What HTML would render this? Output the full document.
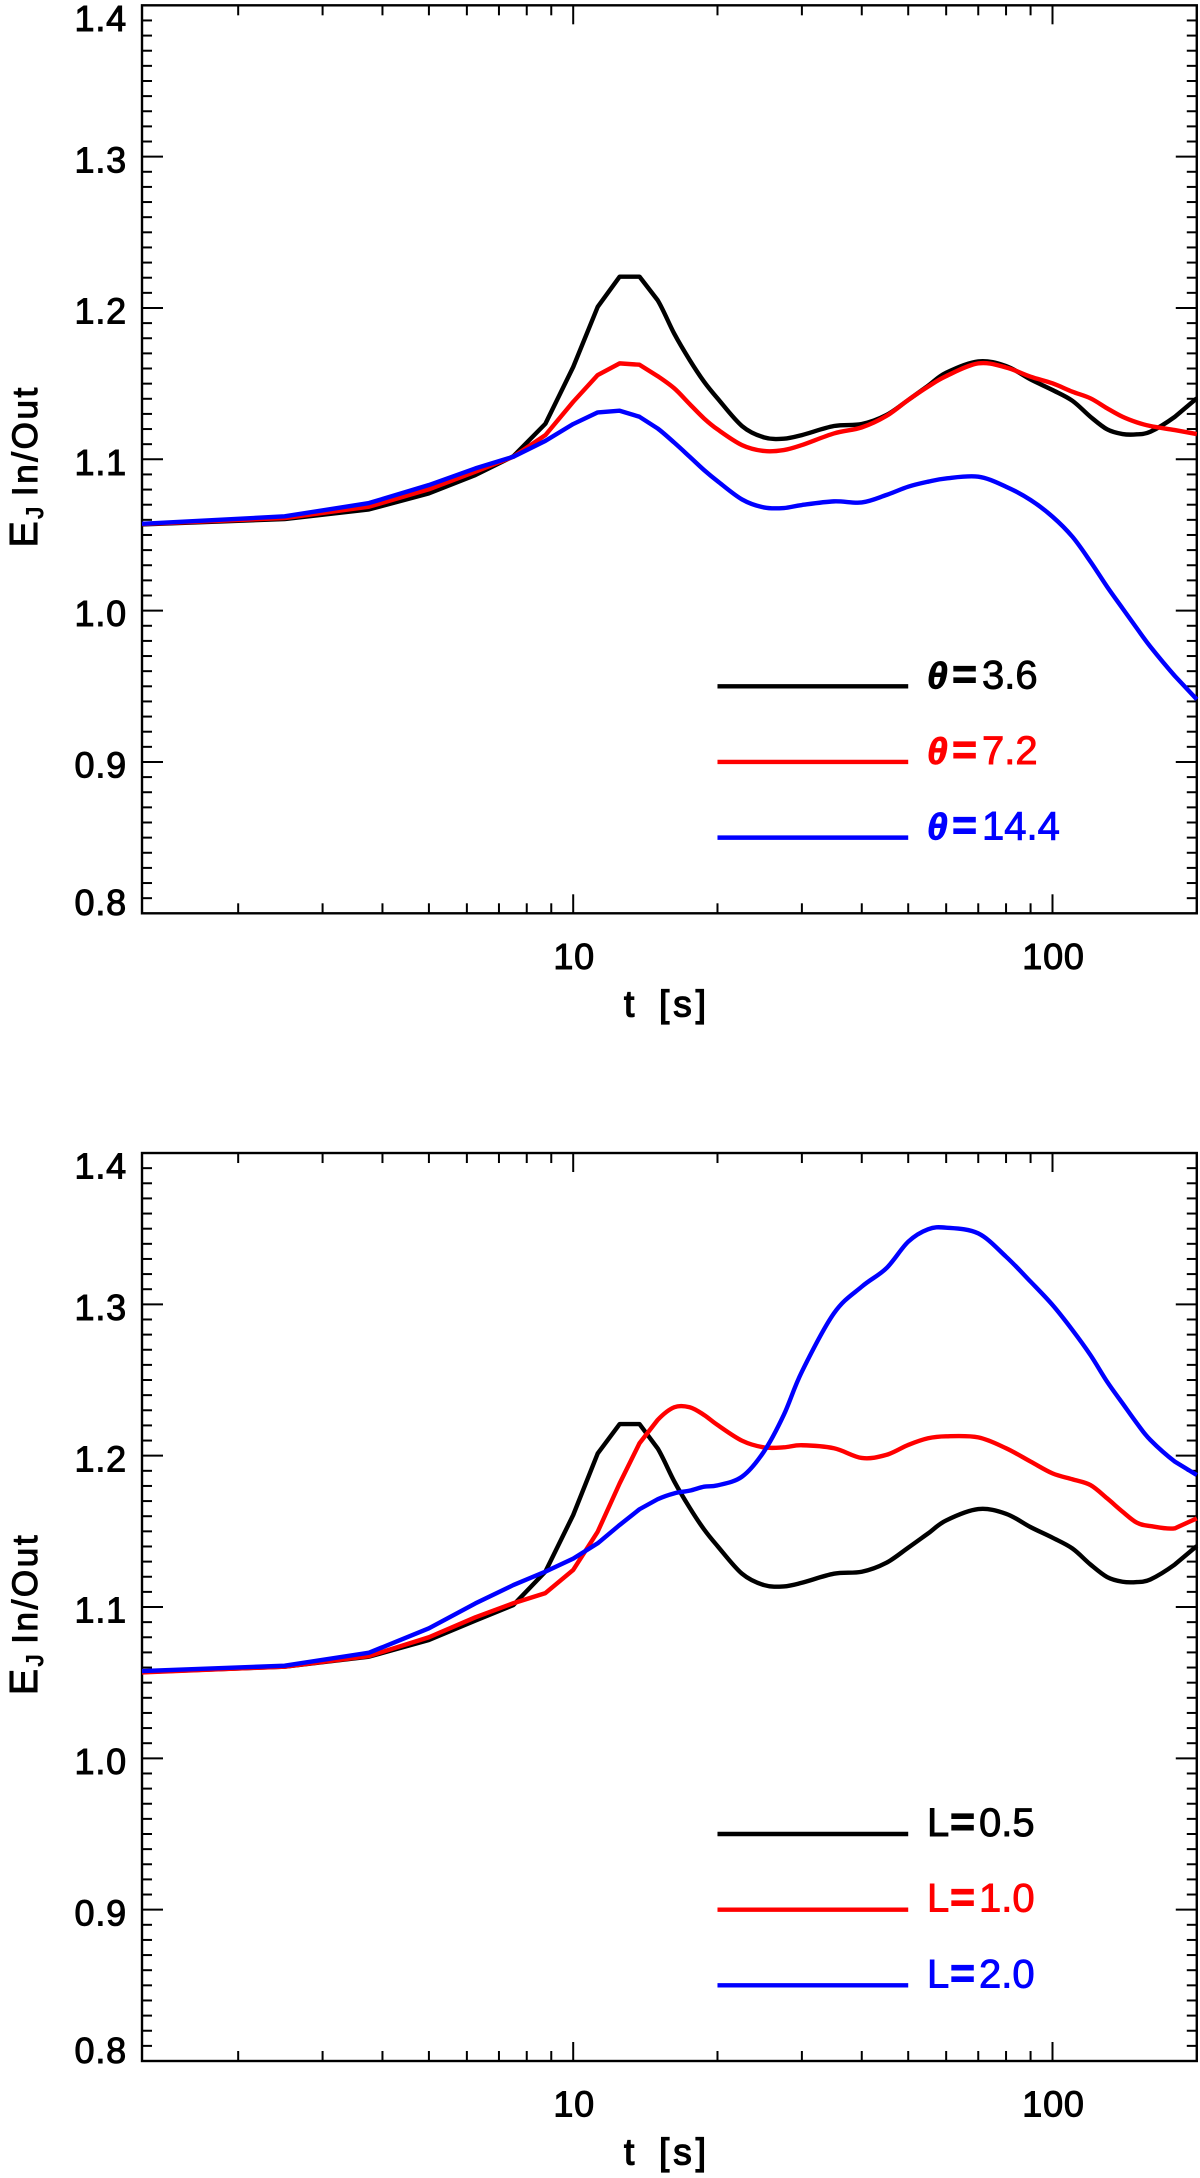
<!DOCTYPE html>
<html>
<head>
<meta charset="utf-8">
<title>EJ In/Out versus time</title>
<style>
html,body{margin:0;padding:0;background:#fff;width:1200px;height:2178px;overflow:hidden}
svg{display:block}
text{font-family:"Liberation Sans",sans-serif}
.tick-label{font-size:36px;stroke-width:1px;letter-spacing:.8px}
</style>
</head>
<body>
<svg id="chart" xmlns="http://www.w3.org/2000/svg" width="1200" height="2178" viewBox="0 0 1200 2178"></svg>
<script>
const times = [1.26,2.5,3.75,5,6.25,7.5,8.75,10,11.25,12.5,13.75,15,16.25,17.5,18.75,20,22.5,25,27.5,30,35,40,45,50,55,60,70,80,90,100,110,120,130,140,150,160,180,200];
const thetaBlack = [1.0570,1.0605,1.0669,1.0775,1.0896,1.1020,1.1235,1.1610,1.2008,1.2207,1.2207,1.2052,1.1830,1.1656,1.1513,1.1403,1.1220,1.1145,1.1136,1.1160,1.1220,1.1233,1.1292,1.1392,1.1486,1.1572,1.1647,1.1616,1.1528,1.1458,1.1387,1.1281,1.1198,1.1167,1.1165,1.1182,1.1281,1.1403];
const thetaRed = [1.0572,1.0612,1.0687,1.0802,1.0918,1.1017,1.1160,1.1380,1.1557,1.1634,1.1625,1.1550,1.1469,1.1365,1.1270,1.1198,1.1094,1.1055,1.1061,1.1094,1.1171,1.1211,1.1286,1.1392,1.1480,1.1550,1.1634,1.1607,1.1546,1.1502,1.1447,1.1403,1.1337,1.1281,1.1244,1.1220,1.1193,1.1167];
const thetaBlue = [1.0574,1.0623,1.0711,1.0830,1.0940,1.1017,1.1122,1.1233,1.1310,1.1321,1.1281,1.1204,1.1110,1.1017,1.0929,1.0856,1.0735,1.0682,1.0678,1.0698,1.0722,1.0715,1.0764,1.0819,1.0852,1.0874,1.0885,1.0819,1.0731,1.0621,1.0489,1.0324,1.0158,1.0015,0.9883,0.9762,0.9568,0.9414];
const lengthBlack = [1.0570,1.0606,1.0672,1.0782,1.0910,1.1013,1.1234,1.1608,1.2015,1.2209,1.2209,1.2049,1.1830,1.1656,1.1513,1.1403,1.1220,1.1145,1.1136,1.1160,1.1220,1.1233,1.1292,1.1392,1.1486,1.1572,1.1647,1.1616,1.1528,1.1458,1.1387,1.1281,1.1198,1.1167,1.1165,1.1182,1.1281,1.1403];
const lengthRed = [1.0568,1.0606,1.0676,1.0800,1.0932,1.1025,1.1092,1.1245,1.1498,1.1817,1.2082,1.2236,1.2320,1.2320,1.2269,1.2203,1.2099,1.2055,1.2055,1.2069,1.2049,1.1985,1.2005,1.2071,1.2115,1.2128,1.2121,1.2049,1.1961,1.1883,1.1844,1.1806,1.1718,1.1630,1.1557,1.1535,1.1520,1.1586];
const lengthBlue = [1.0577,1.0612,1.0698,1.0859,1.1024,1.1145,1.1234,1.1320,1.1421,1.1542,1.1646,1.1712,1.1751,1.1769,1.1795,1.1804,1.1861,1.2027,1.2269,1.2555,1.2941,1.3117,1.3238,1.3414,1.3496,1.3507,1.3469,1.3315,1.3150,1.2996,1.2831,1.2665,1.2489,1.2346,1.2214,1.2104,1.1961,1.1872];
const yTickLabels = ["0.8","0.9","1.0","1.1","1.2","1.3","1.4"];
const xMajorTicks = [10,100];
const xMinorTicks = [2,3,4,5,6,7,8,9,20,30,40,50,60,70,80,90];
const thetaLegendLabels = ["3.6","7.2","14.4"];
const lengthLegendLabels = ["0.5","1.0","2.0"];
const legendValues = [0.95,0.90,0.85];
const legendStart = 20;
const legendEnd = 50;
const yMin = 0.8;
const yMax = 1.4;
const xMin = 1.26;
const xMax = 200;

const NS = "http://www.w3.org/2000/svg";
const svg = document.getElementById("chart");
const COLORS = ["#000000","#ff0000","#0000ff"];
const COLOR_NAMES = ["black","red","blue"];
const INK = "#000000";

function xScale(t){ return 573.2 + 479.3 * (Math.log10(t) - 1); }
function makeYScale(bottom){ return function(v){ return bottom - (v - yMin) * 1513.3; }; }
function el(parent, tag, attrs){
  const e = document.createElementNS(NS, tag);
  for (const k in attrs) e.setAttribute(k, attrs[k]);
  parent.appendChild(e);
  return e;
}
function curvePath(xs, ys){
  let d = "M" + xs[0].toFixed(2) + " " + ys[0].toFixed(2);
  for (let i = 1; i < xs.length; i++){
    if (times[i] <= 15 || i >= xs.length - 1){
      d += "L" + xs[i].toFixed(2) + " " + ys[i].toFixed(2);
    } else {
      const c1x = xs[i-1] + (xs[i] - xs[i-2]) / 6, c1y = ys[i-1] + (ys[i] - ys[i-2]) / 6;
      const c2x = xs[i] - (xs[i+1] - xs[i-1]) / 6, c2y = ys[i] - (ys[i+1] - ys[i-1]) / 6;
      d += "C" + [c1x,c1y,c2x,c2y,xs[i],ys[i]].map(function(n){return n.toFixed(2);}).join(" ");
    }
  }
  return d;
}

function drawPanel(name, bottom, seriesList, seriesNames, legendLabels, legendKind){
  const y = makeYScale(bottom);
  const top = y(yMax), left = xScale(xMin), right = xScale(xMax);
  const g = el(svg, "g", {});
  
  

  // Axis frame
  const frame = el(g, "rect", {x:left, y:top, width:right-left, height:bottom-top, fill:"none", stroke:INK, "stroke-width":2.4});
  
  

  // Y ticks on the left and right axes
  const yTicks = el(g, "g", {stroke:INK, "stroke-width":2});
  
  
  for (let k = 1; k < 60; k++){
    const v = yMin + k * 0.01, py = y(v), len = k % 10 === 0 ? 21 : 10;
    const a = el(yTicks, "line", {x1:left, x2:left+len, y1:py, y2:py});
    
    
    const b = el(yTicks, "line", {x1:right-len, x2:right, y1:py, y2:py});
    
    
  }

  // X ticks on the bottom and top axes
  const xTicks = el(g, "g", {stroke:INK, "stroke-width":2});
  
  
  xMinorTicks.concat(xMajorTicks).forEach(function(t){
    const px = xScale(t), len = xMajorTicks.indexOf(t) >= 0 ? 19 : 10;
    const a = el(xTicks, "line", {x1:px, x2:px, y1:bottom, y2:bottom-len});
    
    
    const b = el(xTicks, "line", {x1:px, x2:px, y1:top, y2:top+len});
    
    
  });

  // Y tick labels (the end labels are nudged inside the axis range)
  yTickLabels.forEach(function(label, i){
    const off = i === 0 ? 1.8 : (i === yTickLabels.length - 1 ? 25.5 : 15.6);
    const t = el(g, "text", {x:127, y:y(parseFloat(label)) + off, "text-anchor":"end", fill:INK, stroke:INK, "class":"tick-label"});
    t.textContent = label;
    
    
  });

  // X tick labels
  xMajorTicks.forEach(function(v){
    const t = el(g, "text", {x:xScale(v) + 1, y:bottom + 55.7, "text-anchor":"middle", fill:INK, stroke:INK, "class":"tick-label"});
    t.textContent = String(v);
    
    
  });

  // X axis title
  const xTitle = el(g, "text", {y:bottom + 103.4, fill:INK, stroke:INK, "stroke-width":1.3, "font-size":37, "letter-spacing":4});
  
  
  const ts1 = el(xTitle, "tspan", {x:624});
  ts1.textContent = "t";
  const ts2 = el(xTitle, "tspan", {x:659});
  ts2.textContent = "[s]";

  // Y axis title
  const titleY = top + 542;
  const yTitle = el(g, "text", {transform:"translate(37 " + titleY + ") rotate(-90)", fill:INK, stroke:INK, "stroke-width":1.1, "font-size":35, "letter-spacing":2.6});
  
  
  const e1 = el(yTitle, "tspan", {"font-size":39});
  e1.textContent = "E";
  const e2 = el(yTitle, "tspan", {"font-size":24, dy:6});
  e2.textContent = "J";
  const e3 = el(yTitle, "tspan", {dy:-6, dx:8});
  e3.textContent = "In/Out";

  // Series
  seriesList.forEach(function(vals, s){
    const xs = times.map(xScale), ys = vals.map(y);
    const p = el(g, "path", {d:curvePath(xs, ys), fill:"none", stroke:COLORS[s], "stroke-width":4.4, "stroke-linejoin":"round"});
    
    
  });

  // Legend
  legendValues.forEach(function(v, s){
    const ly = y(v);
    const line = el(g, "line", {x1:xScale(legendStart), x2:xScale(legendEnd), y1:ly, y2:ly, stroke:COLORS[s], "stroke-width":4.4});
    
    
    const t = el(g, "text", {y:ly + 2, fill:COLORS[s], stroke:COLORS[s], "font-size":40, "stroke-width":0.9});
    
    
    if (legendKind === "theta"){
      const a = el(t, "tspan", {x:927, "font-weight":"bold", "font-style":"italic", "font-size":37});
      a.textContent = "θ";
      const b = el(t, "tspan", {x:952, "font-weight":"bold", "font-size":43});
      b.textContent = "=";
      const c = el(t, "tspan", {x:982});
      c.textContent = legendLabels[s];
    } else {
      const a = el(t, "tspan", {x:927});
      a.textContent = "L";
      const b = el(t, "tspan", {x:950, "font-weight":"bold", "font-size":43});
      b.textContent = "=";
      const c = el(t, "tspan", {x:979});
      c.textContent = legendLabels[s];
    }
  });
}

drawPanel("theta-panel", 913.3, [thetaBlack, thetaRed, thetaBlue], ["series-theta-3-6","series-theta-7-2","series-theta-14-4"], thetaLegendLabels, "theta");
drawPanel("length-panel", 2061, [lengthBlack, lengthRed, lengthBlue], ["series-l-0-5","series-l-1-0","series-l-2-0"], lengthLegendLabels, "length");
</script>
</body>
</html>
